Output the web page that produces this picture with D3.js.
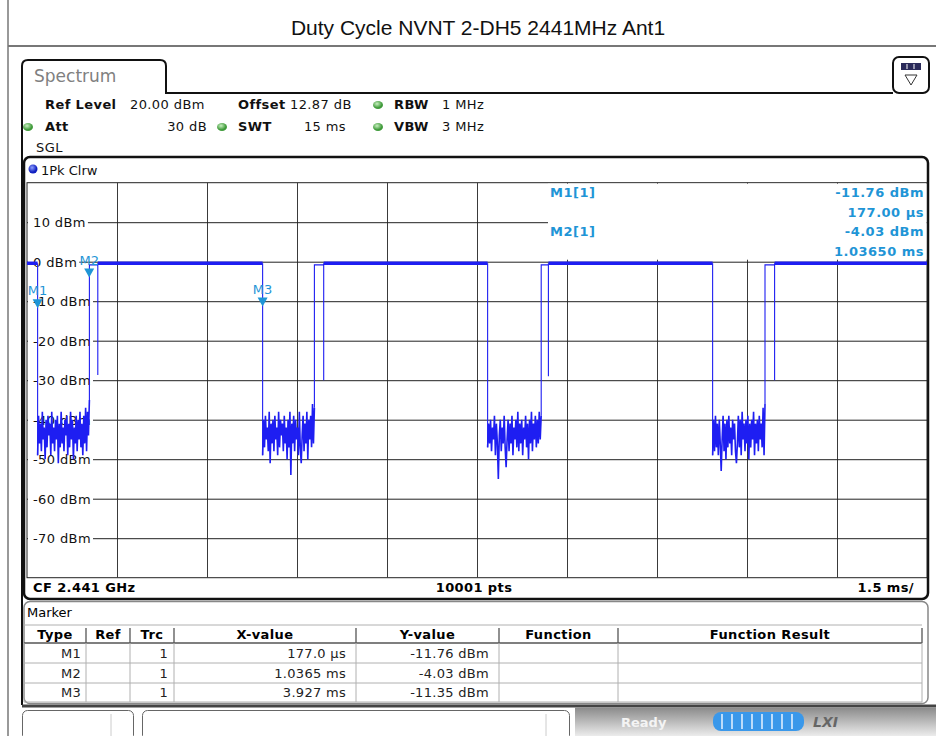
<!DOCTYPE html>
<html>
<head>
<meta charset="utf-8">
<script src="https://cdnjs.cloudflare.com/ajax/libs/d3/7.8.5/d3.min.js"></script>
<style>
  html, body { margin: 0; padding: 0; background: #fff; }
  svg { display: block; }
  text { font-family: 'DejaVu Sans', Verdana, sans-serif; }
</style>
</head>
<body>
<div id="chart"></div>
<script>
// sweep: 15 ms, 1.5 ms/div
const timeTicks = [0, 1.5, 3, 4.5, 6, 7.5, 9, 10.5, 12, 13.5, 15];
const levelTicks = [10, 0, -10, -20, -30, -40, -50, -60, -70];

// burst edges (ms)
const burstFall = [0.177, 3.927, 7.677, 11.427];
const burstRise = [1.04, 4.79, 8.57, 12.30];
const dipTime = [1.18, 4.945, 8.69, 12.46];
const dipLevel = [-28.7, -30, -29, -30];
const onLevel = -0.4;
const riseLevel = -0.8;

// noise floor between bursts (dBm)
const noise1 = [-49, -39, -46, -41, -48, -38, -45, -42, -50, -40, -47, -39, -44, -41, -49, -38, -46, -42, -48, -40, -45, -39, -51, -41, -47, -38, -46, -42, -48, -40, -44, -39, -49, -41, -47, -38, -45, -40, -50, -42, -46, -39, -48, -40, -45, -38, -47, -41, -49, -39, -46, -37, -48, -38, -44, -35];
const noise2 = [-49, -40, -47, -39, -45, -42, -48, -38, -51, -41, -46, -40, -48, -39, -45, -42, -49, -38, -47, -40, -44, -41, -48, -39, -46, -42, -50, -40, -47, -38, -54, -41, -46, -39, -48, -40, -45, -42, -49, -38, -47, -51, -44, -39, -48, -41, -46, -38, -50, -40, -45, -39, -47, -36, -46, -37];
const noise3 = [-47, -41, -46, -40, -48, -42, -45, -39, -49, -41, -46, -55, -44, -40, -48, -42, -46, -39, -47, -52, -45, -40, -48, -41, -46, -39, -49, -42, -45, -40, -47, -38, -48, -41, -46, -40, -49, -42, -45, -39, -47, -41, -50, -40, -46, -38, -48, -41, -45, -39, -47, -40, -46, -38, -45, -39];
const noise4 = [-49, -40, -48, -39, -47, -41, -49, -40, -46, -53, -45, -39, -48, -41, -50, -40, -47, -39, -46, -42, -49, -40, -45, -41, -48, -51, -46, -39, -47, -40, -49, -38, -45, -41, -48, -40, -46, -39, -50, -41, -47, -40, -45, -38, -49, -41, -46, -40, -48, -39, -45, -41, -47, -37, -49, -36];
const noiseSets = [noise1, noise2, noise3, noise4];

// markers
const markerNames = ['M1', 'M2', 'M3'];
const markerTime = [0.177, 1.0365, 3.927];
const markerLevel = [-11.76, -4.03, -11.35];
const markerTrc = ['1', '1', '1'];
const markerXText = ['177.0 µs', '1.0365 ms', '3.927 ms'];
const markerYText = ['-11.76 dBm', '-4.03 dBm', '-11.35 dBm'];
const readoutNames = ['M1[1]', '', 'M2[1]', ''];
const readoutValues = ['-11.76 dBm', '177.00 µs', '-4.03 dBm', '1.03650 ms'];
const tableHeads = ['Type', 'Ref', 'Trc', 'X-value', 'Y-value', 'Function', 'Function Result'];

const W = 936, H = 736;
const blue = '#1e1ef2';
const mkBlue = '#1f95d6';

const svg = d3.select('#chart').append('svg')
    .attr('width', W)
    .attr('height', H);

const defs = svg.append('defs');
const g1 = defs.append('radialGradient').attr('id', 'greenDot').attr('cx', '40%').attr('cy', '35%');
g1.append('stop').attr('offset', '0%').attr('stop-color', '#c8f0c0');
g1.append('stop').attr('offset', '100%').attr('stop-color', '#3f9a3a');
const g2 = defs.append('radialGradient').attr('id', 'blueDot').attr('cx', '40%').attr('cy', '35%');
g2.append('stop').attr('offset', '0%').attr('stop-color', '#8fa0ff');
g2.append('stop').attr('offset', '100%').attr('stop-color', '#1020c0');
const g3 = defs.append('linearGradient').attr('id', 'statusBg').attr('x1', 0).attr('y1', 0).attr('x2', 0).attr('y2', 1);
g3.append('stop').attr('offset', '0%').attr('stop-color', '#8a8a8a');
g3.append('stop').attr('offset', '100%').attr('stop-color', '#ececec');

// page frame and title
svg.append('line').attr('x1', 8).attr('x2', 8).attr('y1', 0).attr('y2', H)
    .attr('stroke', '#777').attr('stroke-width', 1.5);
svg.append('line').attr('x1', 8).attr('x2', W).attr('y1', 46).attr('y2', 46)
    .attr('stroke', '#777').attr('stroke-width', 2);
svg.append('text')
    .attr('x', 478).attr('y', 35)
    .attr('text-anchor', 'middle')
    .style('font-family', "'Liberation Sans', Arial, sans-serif")
    .style('font-size', '21px')
    .attr('fill', '#111')
    .text('Duty Cycle NVNT 2-DH5 2441MHz Ant1');

// spectrum tab
svg.append('path')
    .attr('d', 'M22,705 V66 Q22,60 28,60 H160 Q166,60 166,66 V93 H893')
    .attr('fill', 'none').attr('stroke', '#111').attr('stroke-width', 2);
svg.append('text').attr('x', 34).attr('y', 82)
    .style('font-size', '17px').attr('fill', '#808080').text('Spectrum');

// icon top right
svg.append('rect').attr('x', 893).attr('y', 57).attr('width', 36).attr('height', 36).attr('rx', 6)
    .attr('fill', '#fff').attr('stroke', '#111').attr('stroke-width', 2);
svg.append('rect').attr('x', 901).attr('y', 63).attr('width', 20).attr('height', 7).attr('fill', '#2a2a5a');
[907, 914].forEach(xx => svg.append('line').attr('x1', xx).attr('x2', xx).attr('y1', 64).attr('y2', 69)
    .attr('stroke', '#fff').attr('stroke-width', 1));
svg.append('path').attr('d', 'M905,75 L917,75 L911,85 Z')
    .attr('fill', 'none').attr('stroke', '#333').attr('stroke-width', 1);

// settings block
const info = svg.append('g').style('font-size', '13px').style('letter-spacing', '0.4px').attr('fill', '#111');
const infoItems = [
    { x: 45, y: 109, t: 'Ref Level', b: true }, { x: 130, y: 109, t: '20.00 dBm' },
    { x: 238, y: 109, t: 'Offset', b: true }, { x: 290, y: 109, t: '12.87 dB' },
    { x: 394, y: 109, t: 'RBW', b: true }, { x: 442, y: 109, t: '1 MHz' },
    { x: 45, y: 131, t: 'Att', b: true }, { x: 207, y: 131, t: '30 dB', a: 'end' },
    { x: 238, y: 131, t: 'SWT', b: true }, { x: 346, y: 131, t: '15 ms', a: 'end' },
    { x: 394, y: 131, t: 'VBW', b: true }, { x: 442, y: 131, t: '3 MHz' },
    { x: 36, y: 152, t: 'SGL' }
];
info.selectAll('text').data(infoItems).enter().append('text')
    .attr('x', d => d.x).attr('y', d => d.y)
    .attr('text-anchor', d => d.a || 'start')
    .style('font-weight', d => d.b ? 'bold' : 'normal')
    .text(d => d.t);
[[378, 105], [28, 127], [222, 127], [378, 127]].forEach(p => {
    svg.append('ellipse').attr('cx', p[0]).attr('cy', p[1]).attr('rx', 5).attr('ry', 4)
        .attr('fill', 'url(#greenDot)');
});

// trace window
svg.append('rect').attr('x', 24).attr('y', 157).attr('width', 904).attr('height', 442).attr('rx', 6)
    .attr('fill', '#fff').attr('stroke', '#111').attr('stroke-width', 2.5);
svg.append('circle').attr('cx', 33).attr('cy', 169).attr('r', 4.5).attr('fill', 'url(#blueDot)');
svg.append('text').attr('x', 41).attr('y', 175).style('font-size', '13px').attr('fill', '#111').text('1Pk Clrw');

const x = d3.scaleLinear().domain([0, 15]).range([27, 927]);
const y = d3.scaleLinear().domain([-80, 20]).range([577.7, 182.7]);

const plot = svg.append('g');
plot.append('rect').attr('x', x(0)).attr('y', y(20)).attr('width', x(15) - x(0)).attr('height', y(-80) - y(20))
    .attr('fill', '#fff').attr('stroke', '#222').attr('stroke-width', 1);

// grid through axes
const vGrid = plot.append('g').attr('transform', `translate(0,${y(-80)})`)
    .call(d3.axisBottom(x).tickValues(timeTicks.slice(1, -1)).tickSize(-(y(-80) - y(20))).tickFormat(''));
vGrid.select('.domain').remove();
vGrid.selectAll('line').attr('stroke', '#3a3a3a');
const hGrid = plot.append('g').attr('transform', `translate(${x(0)},0)`)
    .call(d3.axisLeft(y).tickValues(levelTicks).tickSize(-(x(15) - x(0))).tickFormat(''));
hGrid.select('.domain').remove();
hGrid.selectAll('line').attr('stroke', '#222');

// level labels with white backing
const lab = plot.selectAll('.lvl').data(levelTicks).enter().append('g').attr('class', 'lvl');
lab.append('text')
    .attr('x', 33).attr('y', d => y(d) + 5)
    .style('font-size', '13px').style('letter-spacing', '0.4px').attr('fill', '#111')
    .text(d => `${d} dBm`);
lab.each(function () {
    const t = d3.select(this).select('text');
    const bb = t.node().getBBox();
    d3.select(this).insert('rect', 'text')
        .attr('x', x(0) + 1).attr('y', bb.y)
        .attr('width', bb.x + bb.width - x(0) + 1).attr('height', bb.height)
        .attr('fill', '#fff');
});

// marker readout box
plot.append('rect').attr('x', 548).attr('y', y(20) + 1).attr('width', x(15) - 548 - 0.5).attr('height', 76)
    .attr('fill', '#fff');
const ro = plot.append('g').style('font-size', '13px').style('font-weight', 'bold')
    .style('letter-spacing', '0.5px').attr('fill', mkBlue);
ro.selectAll('.rn').data(readoutNames).enter().append('text')
    .attr('x', 550).attr('y', (d, i) => 197 + i * 19.6).text(d => d);
ro.selectAll('.rv').data(readoutValues).enter().append('text')
    .attr('x', 924).attr('y', (d, i) => 197 + i * 19.6).attr('text-anchor', 'end').text(d => d);

// trace
const line = d3.line().x(d => x(d[0])).y(d => y(d[1]));
const thick = [];
const edges = [];
const floor = [];
let tPrev = 0;
burstFall.forEach((tf, i) => {
    thick.push([[tPrev, onLevel], [tf, onLevel]]);
    const ns = noiseSets[i];
    const pts = ns.map((v, k) => [tf + (burstRise[i] - tf) * k / (ns.length - 1), v]);
    floor.push(pts);
    edges.push([[tf, onLevel], pts[0]]);
    edges.push([pts[pts.length - 1], [burstRise[i], riseLevel], [dipTime[i], riseLevel],
        [dipTime[i], dipLevel[i]], [dipTime[i], onLevel]]);
    tPrev = dipTime[i];
});
thick.push([[tPrev, onLevel], [15, onLevel]]);

plot.selectAll('.edge').data(edges).enter().append('path')
    .attr('d', line).attr('fill', 'none').attr('stroke', blue).attr('stroke-width', 1.1);
plot.selectAll('.floor').data(floor).enter().append('path')
    .attr('d', line).attr('fill', 'none').attr('stroke', blue).attr('stroke-width', 1.6);
plot.selectAll('.thick').data(thick).enter().append('path')
    .attr('d', line).attr('fill', 'none').attr('stroke', blue).attr('stroke-width', 3.5);

// markers
const mk = plot.selectAll('.mk').data(markerNames).enter().append('g')
    .attr('transform', (d, i) => `translate(${x(markerTime[i])},${y(markerLevel[i])})`);
mk.append('path').attr('d', 'M-5,-9 L5,-9 L0,0 Z').attr('fill', mkBlue);
mk.append('text').attr('y', -13).attr('text-anchor', 'middle')
    .style('font-size', '13px').attr('fill', mkBlue).text(d => d);

// footer of trace window
svg.append('text').attr('x', 33).attr('y', 592).style('font-size', '13px').style('font-weight', 'bold')
    .style('letter-spacing', '0.4px').text('CF 2.441 GHz');
svg.append('text').attr('x', 474).attr('y', 592).attr('text-anchor', 'middle').style('font-size', '13px')
    .style('font-weight', 'bold').style('letter-spacing', '0.4px').text('10001 pts');
svg.append('text').attr('x', 914).attr('y', 592).attr('text-anchor', 'end').style('font-size', '13px')
    .style('font-weight', 'bold').style('letter-spacing', '0.4px').text('1.5 ms/');

// marker table
svg.append('rect').attr('x', 24).attr('y', 601.5).attr('width', 904).attr('height', 102).attr('rx', 6)
    .attr('fill', '#fff').attr('stroke', '#888').attr('stroke-width', 1.5);
svg.append('text').attr('x', 27).attr('y', 617).style('font-size', '13px').text('Marker');

const colX = [24, 86, 130, 174, 356, 499, 618, 922];
const rowY = [625, 643, 663, 683, 702];
const tbl = svg.append('g');
rowY.forEach((ry, i) => tbl.append('line').attr('x1', colX[0]).attr('x2', colX[7]).attr('y1', ry).attr('y2', ry)
    .attr('stroke', i === 1 ? '#555' : '#b0b0b0').attr('stroke-width', i === 1 ? 1.5 : 1));
colX.forEach((cx, i) => {
    tbl.append('line').attr('x1', cx).attr('x2', cx).attr('y1', rowY[1]).attr('y2', rowY[4])
        .attr('stroke', '#b0b0b0');
    if (i > 0) tbl.append('line').attr('x1', cx).attr('x2', cx).attr('y1', rowY[0] + 3).attr('y2', rowY[1])
        .attr('stroke', '#555').attr('stroke-width', 1.3);
});
tbl.selectAll('.th').data(tableHeads).enter().append('text')
    .attr('x', (d, i) => (colX[i] + colX[i + 1]) / 2).attr('y', 639)
    .attr('text-anchor', 'middle').style('font-size', '13px').style('font-weight', 'bold')
    .style('letter-spacing', '0.4px').text(d => d);
const rowText = (arr, col, pad) => tbl.selectAll(null).data(arr).enter().append('text')
    .attr('x', colX[col + 1] - pad).attr('y', (d, i) => 658 + i * 19.5)
    .attr('text-anchor', 'end').style('font-size', '13px').style('letter-spacing', '0.3px')
    .attr('fill', '#222').text(d => d);
rowText(markerNames, 0, 5);
rowText(markerTrc, 2, 6);
rowText(markerXText, 3, 10);
rowText(markerYText, 4, 10);

// bottom separator and status bar
svg.append('line').attr('x1', 22).attr('x2', W).attr('y1', 706).attr('y2', 706)
    .attr('stroke', '#444').attr('stroke-width', 3);
svg.append('rect').attr('x', 575).attr('y', 707.5).attr('width', W - 575).attr('height', H - 707.5)
    .attr('fill', 'url(#statusBg)');
svg.append('rect').attr('x', 22.5).attr('y', 710.5).attr('width', 111).attr('height', 30).attr('rx', 5)
    .attr('fill', '#fff').attr('stroke', '#666');
svg.append('line').attr('x1', 111).attr('x2', 111).attr('y1', 714).attr('y2', 736).attr('stroke', '#ccc');
svg.append('rect').attr('x', 142.5).attr('y', 710.5).attr('width', 427).attr('height', 30).attr('rx', 5)
    .attr('fill', '#fff').attr('stroke', '#666');
svg.append('line').attr('x1', 546).attr('x2', 546).attr('y1', 714).attr('y2', 736).attr('stroke', '#ccc');
svg.append('text').attr('x', 621).attr('y', 727).style('font-size', '13px').style('font-weight', 'bold')
    .attr('fill', '#f4f4f4').text('Ready');
svg.append('rect').attr('x', 713).attr('y', 712).attr('width', 91).attr('height', 19).attr('rx', 8)
    .attr('fill', '#3a98ea');
d3.range(8).forEach(k => svg.append('line')
    .attr('x1', 722 + k * 10).attr('x2', 722 + k * 10).attr('y1', 714).attr('y2', 729)
    .attr('stroke', '#e8f3ff').attr('stroke-width', 1.5));
svg.append('text').attr('x', 813).attr('y', 727).style('font-size', '14px').style('font-weight', 'bold')
    .style('font-style', 'italic').attr('fill', '#666').text('LXI');
</script>
</body>
</html>
